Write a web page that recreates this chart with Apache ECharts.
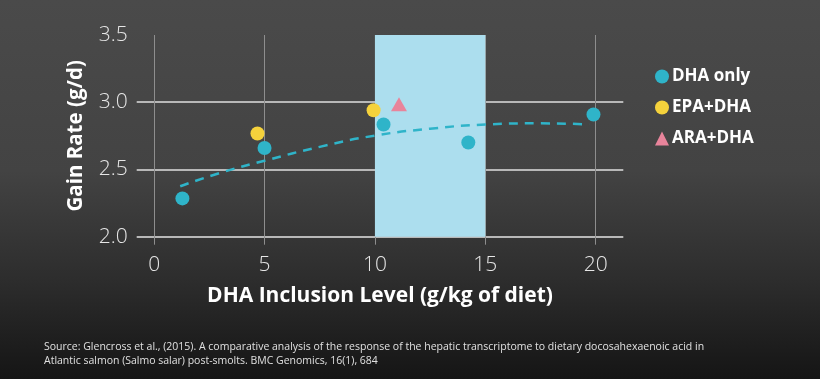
<!DOCTYPE html>
<html>
<head>
<meta charset="utf-8">
<script src="https://cdn.jsdelivr.net/npm/echarts@6/dist/echarts.min.js"></script>
<style>
html,body{margin:0;padding:0;}
#chart{width:820px;height:379px;}
</style>
</head>
<body>
<div id="chart"></div>
<script>
// ---- data ----
var xTicks = [0, 5, 10, 15, 20];
var seriesNames = ['DHA only', 'EPA+DHA', 'ARA+DHA'];
var dhaOnly = [[1.28, 2.285], [5.0, 2.66], [10.39, 2.834], [14.23, 2.70], [19.9, 2.909]];
var epaDha = [[4.68, 2.768], [9.94, 2.94]];
var araDha = [[11.09, 2.985]];
var trend = [[1.18, 2.375], [3, 2.475], [5, 2.565], [7.5, 2.668], [10, 2.752], [12.5, 2.803], [15, 2.834], [17.5, 2.843], [19.7, 2.835]];
var bandRange = [10, 15];
var sourceLines = [
  'Source: Glencross et al., (2015). A comparative analysis of the response of the hepatic transcriptome to dietary docosahexaenoic acid in',
  'Atlantic salmon (Salmo salar) post-smolts. BMC Genomics, 16(1), 684'
];

var colors = {teal: '#2fb4c9', yellow: '#f5d23c', pink: '#e8849b', band: '#acdeee'};

var chart = echarts.init(document.getElementById('chart'));
chart.setOption({
  backgroundColor: new echarts.graphic.LinearGradient(0, 0, 0, 1, [
    {offset: 0, color: '#4a4a4a'},
    {offset: 0.45, color: '#434343'},
    {offset: 0.75, color: '#2c2c2c'},
    {offset: 1, color: '#151515'}
  ]),
  animation: false,
  grid: {left: 136.7, right: 196.7, top: 35, bottom: 142.3},
  legend: {
    data: [
      {name: seriesNames[0], icon: 'circle'},
      {name: seriesNames[1], icon: 'circle'},
      {name: seriesNames[2], icon: 'triangle'}
    ],
    orient: 'vertical',
    left: 650,
    top: 63,
    itemWidth: 14,
    itemHeight: 14,
    itemGap: 14,
    textStyle: {color: '#ffffff', fontFamily: 'Open Sans', fontWeight: 'bold', fontSize: 17, padding: [0, 0, 0, -2]}
  },
  xAxis: {
    type: 'value',
    min: -0.79,
    max: 21.25,
    name: 'DHA Inclusion Level (g/kg of diet)',
    nameLocation: 'middle',
    nameGap: 49,
    nameTextStyle: {color: '#ffffff', fontFamily: 'Open Sans', fontWeight: 'bold', fontSize: 21},
    axisLine: {show: false},
    axisTick: {show: true, length: 8, lineStyle: {color: '#8e8e8e', width: 1}, customValues: xTicks},
    axisLabel: {color: '#e6e6e6', fontFamily: 'Open Sans', fontWeight: 300, fontSize: 21, margin: 18, customValues: xTicks},
    splitLine: {show: true, lineStyle: {color: '#8e8e8e', width: 1}}
  },
  yAxis: {
    type: 'value',
    min: 2.0,
    max: 3.5,
    interval: 0.5,
    name: 'Gain Rate (g/d)',
    nameLocation: 'middle',
    nameGap: 50,
    nameTextStyle: {color: '#ffffff', fontFamily: 'Open Sans', fontWeight: 'bold', fontSize: 20.5},
    axisLine: {show: false},
    axisTick: {show: false},
    axisLabel: {color: '#e6e6e6', fontFamily: 'Open Sans', fontWeight: 300, fontSize: 21, margin: 9,
      formatter: function (v) { return v.toFixed(1); }},
    splitLine: {show: true, showMaxLine: false, lineStyle: {color: '#b8b8b8', width: 2}}
  },
  series: [
    {
      name: 'band', type: 'line', data: [], z: 1, silent: true,
      markArea: {
        silent: true,
        itemStyle: {color: colors.band, opacity: 1},
        data: [[{xAxis: bandRange[0], yAxis: 2.0}, {xAxis: bandRange[1], yAxis: 3.5}]]
      }
    },
    {
      name: 'trend', type: 'line', data: trend, smooth: true, showSymbol: false, z: 2,
      lineStyle: {color: colors.teal, width: 2.5, type: [9, 7]}
    },
    {
      name: seriesNames[0], type: 'scatter', data: dhaOnly, symbol: 'circle', symbolSize: 14, z: 3,
      itemStyle: {color: colors.teal, opacity: 1}
    },
    {
      name: seriesNames[1], type: 'scatter', data: epaDha, symbol: 'circle', symbolSize: 14, z: 3,
      itemStyle: {color: colors.yellow, opacity: 1}
    },
    {
      name: seriesNames[2], type: 'scatter', data: araDha, symbol: 'triangle', symbolSize: [16, 14], z: 3,
      itemStyle: {color: colors.pink, opacity: 1}
    }
  ],
  graphic: [
    {type: 'text', left: 44, top: 340,
      style: {text: sourceLines.join('\n'), fill: '#e0e0e0', font: '10.5px "Open Sans"', lineHeight: 14}}
  ]
});
</script>
</body>
</html>
